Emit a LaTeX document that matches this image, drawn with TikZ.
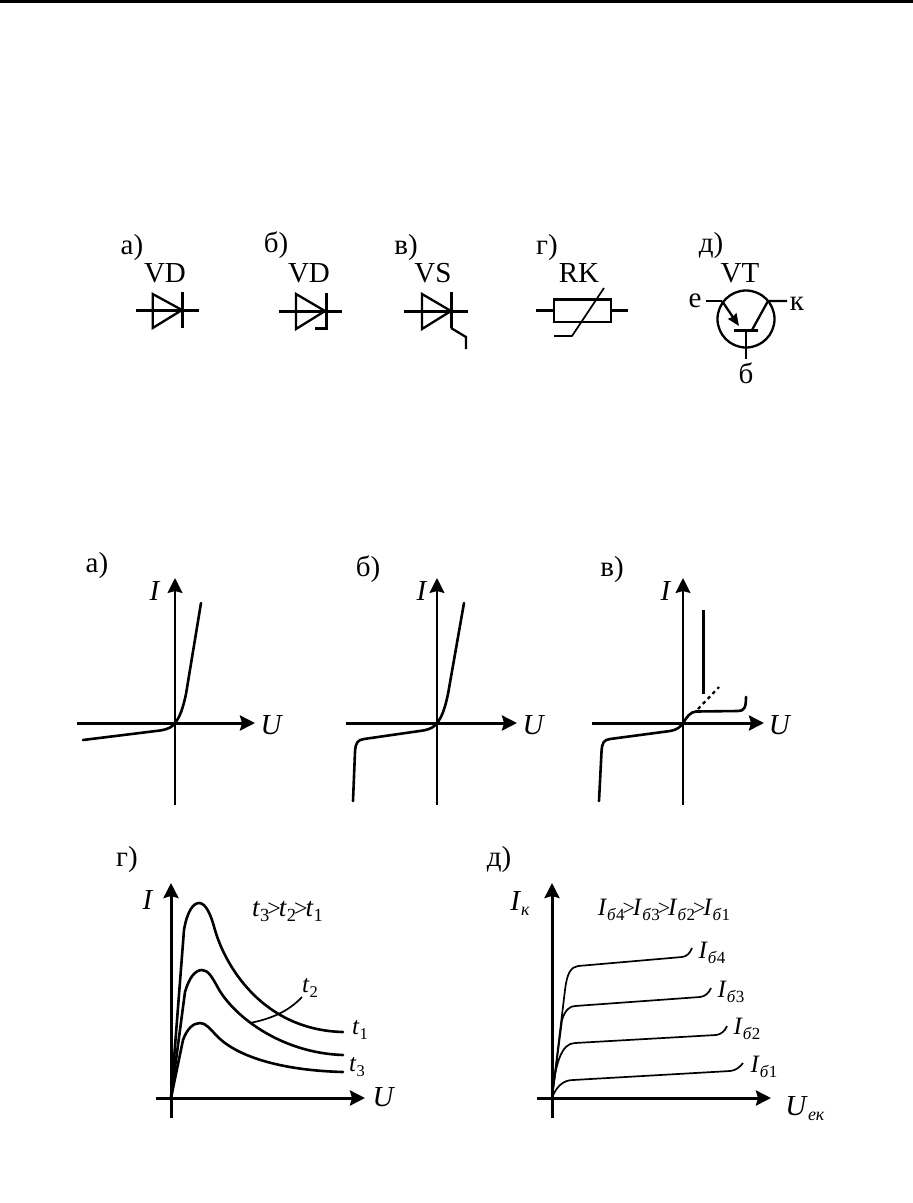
\documentclass[tikz,border=0pt]{standalone}
\usepackage{fontspec}
\setmainfont{Liberation Serif}
\usetikzlibrary{arrows.meta}
\newcommand{\tsub}[1]{{\fontsize{16.5}{17}\selectfont\raisebox{-5pt}{#1}}}
\newcommand{\csub}[1]{{\fontsize{18}{18}\selectfont\raisebox{-5pt}{#1}}}
\newcommand{\ssub}[1]{{\fontsize{17}{17}\selectfont\raisebox{-5pt}{#1}}}
\newcommand{\gt}{{\fontsize{22}{22}\selectfont\kern-2pt>\kern-2pt}}
\newcommand{\gtw}{{\fontsize{24}{24}\selectfont\kern-2pt>\kern-2pt}}
\tikzset{
  x=1pt,y=-1pt,
  lab/.style={font=\fontsize{29}{29}\selectfont,anchor=base,inner sep=0pt},
  labm/.style={font=\fontsize{25}{25}\selectfont,anchor=base,inner sep=0pt},
  small/.style={font=\fontsize{25}{25}\selectfont,anchor=base,inner sep=0pt},
  thick line/.style={line width=3pt},
  sym/.style={line width=2.3pt},
  thin axis/.style={line width=2pt},
  fat axis/.style={line width=3pt,-{Stealth[length=15pt,width=15pt,inset=2pt]}},
  curve/.style={line width=2.6pt,line join=round,line cap=round},
  fine/.style={line width=1.7pt,line join=round},
}
\begin{document}
\begin{tikzpicture}
\useasboundingbox (0,0) rectangle (913,1203);
\fill[white] (0,0) rectangle (913,1203);
\fill[black] (0,0) rectangle (913,2.5);

% --- symbols, row 1 ---
\node[lab] (la) at (132,254) {а)};
\node[lab] (lb) at (276,252) {б)};
\node[lab] (lv) at (406,254) {в)};
\node[lab] (lg) at (547,254) {г)};
\node[lab] (ld) at (711,252) {д)};
\node[lab] (vd1) at (165,282) {VD};
\node[lab] (vd2) at (309,282) {VD};
\node[lab] (vs) at (433,282) {VS};
\node[lab] (rk) at (579,282) {RK};
\node[lab] (vt) at (740,282) {VT};
\node[lab] (ee) at (695,307) {е};
\node[lab] (kk) at (797,310) {к};
\node[lab] (bb) at (746,383) {б};

% diode a
\draw[thick line] (136,310) -- (199,310);
\draw[sym,line join=miter] (152.7,294) -- (182,310) -- (152.7,328) -- cycle;
\draw[thick line] (182,292) -- (182,328);
% diode b
\draw[thick line] (279,311) -- (342,311);
\draw[sym] (296,294) -- (325,311) -- (296,329) -- cycle;
\draw[thick line] (315,328) -- (326.5,328) -- (326.5,293);
% thyristor
\draw[thick line] (404,311) -- (468,311);
\draw[sym] (422,294) -- (451,311) -- (422,329) -- cycle;
\draw[thick line] (451,292) -- (451,328);
\draw[sym] (451,328) -- (466,337) -- (466,349);
% thermistor
\draw[thick line] (536,310) -- (554,310) (611,310) -- (628,310);
\draw[sym] (554,299) rectangle (611,322);
\draw[thick line] (554,299) -- (611,299);
\draw[fine] (604,288) -- (572,336) -- (554,336);
% transistor
\coordinate (tc) at (746,319);
\draw[sym] (tc) circle (28.5);
\draw[sym] (706,301) -- (722,301);
\draw[sym,-{Stealth[length=12pt,width=10pt,inset=1pt]}] (722,301) -- (739,326);
\draw[sym] (787,301) -- (768,301) -- (752,330);
\draw[thick line] (734,330) -- (758,330);
\draw[sym] (746,330) -- (746,359);

% --- chart a ---
\node[lab] (ca) at (97,572) {а)};
\node[lab] (ia) at (155,600) {\textit{I}};
\node[lab] (ua) at (272,734) {\textit{U}};
\coordinate (oa) at (175,723);
\draw[fat axis] (77,723) -- (255,723);
\draw[thin axis,-{Stealth[length=15pt,width=15pt,inset=2pt]}] (175,805) -- (175,578);
\draw[curve] (83,740) -- (160,730.5) .. controls (169,729) and (172,727) .. (oa) .. controls (180,717) and (183,708) .. (186,694) -- (201,603);

% --- chart b ---
\node[lab] (cb) at (368,576) {б)};
\node[lab] (ib) at (422,600) {\textit{I}};
\node[lab] (ub) at (534,734) {\textit{U}};
\coordinate (ob) at (437,723);
\draw[fat axis] (346,723) -- (517,723);
\draw[thin axis,-{Stealth[length=15pt,width=15pt,inset=2pt]}] (437,805) -- (437,578);
\draw[curve] (353,801) -- (355,752) .. controls (355.5,742) and (358,740) .. (364,739) -- (423,730.5) .. controls (431,729) and (434,727) .. (ob) .. controls (442,717) and (445,708) .. (448,694) -- (464,603);

% --- chart v ---
\node[lab] (cv) at (612,576) {в)};
\node[lab] (iv) at (666,600) {\textit{I}};
\node[lab] (uv) at (780,734) {\textit{U}};
\coordinate (ov) at (683,723);
\draw[fat axis] (592,723) -- (764,723);
\draw[thin axis,-{Stealth[length=15pt,width=15pt,inset=2pt]}] (683,805) -- (683,578);
\draw[curve] (599,801) -- (601.5,752) .. controls (602,742) and (604,740) .. (610,739) -- (670,731) .. controls (678,729.5) and (680,727) .. (ov) .. controls (687,717) and (690,712) .. (696,711.5) -- (738,711) .. controls (744,711) and (746,708) .. (746,697);
\draw[line width=2.2pt,dash pattern=on 3.5pt off 3.5pt] (698,709) -- (719,687);
\draw[line width=3pt] (703,610) -- (703,694);

% --- chart g ---
\node[lab] (cg) at (127,866) {г)};
\node[lab] (ig) at (148,909) {\textit{I}};
\node[lab] (ug) at (384,1106) {\textit{U}};
\node[font=\fontsize{27}{27}\selectfont,anchor=base,inner sep=0pt] (tcmp) at (287.5,916) {\textit{t}{\fontsize{18.5}{19}\selectfont\raisebox{-5pt}{3}}\gtw\textit{t}{\fontsize{18.5}{19}\selectfont\raisebox{-5pt}{2}}\gtw\textit{t}{\fontsize{18.5}{19}\selectfont\raisebox{-5pt}{1}}};
\node[labm] (t1) at (360,1034) {\textit{t}\tsub{1}};
\node[labm] (t2) at (310,992) {\textit{t}\tsub{2}};
\node[labm] (t3) at (357,1071) {\textit{t}\tsub{3}};
\coordinate (og) at (171,1098);
\draw[fat axis] (156,1098) -- (365,1098);
\draw[fat axis] (171,1118) -- (171,883);
\draw[curve] (og) -- (184,930) .. controls (187,912) and (193,903) .. (199,903) .. controls (206,903) and (211,915) .. (215,930) .. controls (225,965) and (262,1030) .. (343,1032);
\draw[curve] (og) -- (185,992) .. controls (189,978) and (195,970) .. (202,970) .. controls (208,970) and (212,977) .. (217,986) .. controls (232,1015) and (280,1053) .. (343,1055);
\draw[curve] (og) -- (183,1040) .. controls (187,1029) and (193,1023) .. (200,1023) .. controls (206,1023) and (210,1029) .. (217,1036) .. controls (232,1052) and (270,1070) .. (343,1072);
\draw[fine] (250,1023) .. controls (270,1019) and (288,1012) .. (302,997);

% --- chart d ---
\node[lab] (cd) at (499,866) {д)};
\node[lab] (id) at (520,910) {\textit{I}\csub{\textit{к}}};
\node[lab] (ud) at (805,1115) {\textit{U}\csub{\textit{ек}}};
\node[small] (icmp) at (664,915) {\textit{I}\ssub{\textit{б}4}\gt\textit{I}\ssub{\textit{б}3}\gt\textit{I}\ssub{\textit{б}2}\gt\textit{I}\ssub{\textit{б}1}};
\node[labm] (i4) at (712,958) {\textit{I}\ssub{\textit{б}4}};
\node[labm] (i3) at (731,997) {\textit{I}\ssub{\textit{б}3}};
\node[labm] (i2) at (747,1034) {\textit{I}\ssub{\textit{б}2}};
\node[labm] (i1) at (764,1072) {\textit{I}\ssub{\textit{б}1}};
\coordinate (od) at (552,1098);
\draw[fat axis] (537,1098) -- (771,1098);
\draw[fat axis] (552,1118) -- (552,883);
\draw[fine] (od) -- (565,990) .. controls (567,973) and (571,967) .. (578,966) -- (682,957) .. controls (687,956.5) and (690,953) .. (692,948);
\draw[fine] (od) -- (562,1020) .. controls (565,1010) and (570,1006) .. (575,1006) -- (700,997) .. controls (705,996.5) and (709,993) .. (711,988);
\draw[fine] (od) .. controls (555,1065) and (561,1043) .. (575,1043) -- (716,1035) .. controls (721,1034.5) and (725,1031) .. (727,1026);
\draw[fine] (od) .. controls (556,1087) and (563,1080) .. (573,1080) -- (730,1071) .. controls (736,1070.5) and (740,1067) .. (743,1063);
\end{tikzpicture}
\end{document}
